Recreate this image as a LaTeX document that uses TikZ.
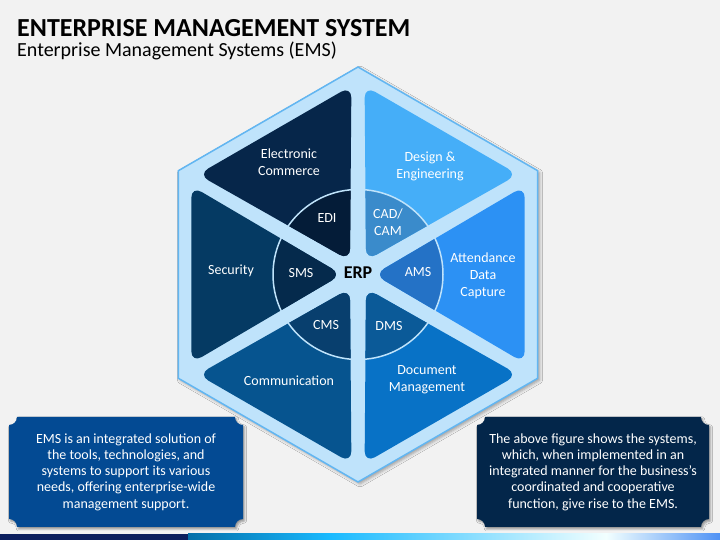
\documentclass[tikz,border=0pt]{standalone}
\usepackage{fontspec}
\setmainfont{Carlito}
\usetikzlibrary{shadows.blur}
\definecolor{PAGE}{HTML}{F2F2F2}
\definecolor{HEXFILL}{HTML}{BFE3FB}
\definecolor{HEXLINE}{HTML}{62B6F2}
\definecolor{ECOM}{HTML}{06264A}
\definecolor{EDIC}{HTML}{041C38}
\definecolor{DENG}{HTML}{45AEF8}
\definecolor{CADC}{HTML}{3A8BCB}
\definecolor{ADC}{HTML}{2C91F4}
\definecolor{AMSC}{HTML}{2472C6}
\definecolor{DOCM}{HTML}{0872C6}
\definecolor{DMSC}{HTML}{0B5A98}
\definecolor{COMM}{HTML}{06548F}
\definecolor{CMSC}{HTML}{083F6E}
\definecolor{SECU}{HTML}{053A63}
\definecolor{SMSC}{HTML}{052A4C}
\definecolor{BOXL}{HTML}{034A93}
\definecolor{BOXR}{HTML}{03264A}
\definecolor{BARD}{HTML}{0C1F5E}
\tikzset{
HEX/.style={fill=HEXFILL,draw=HEXLINE,line width=1.5pt,line join=miter,
  blur shadow={shadow xshift=2pt,shadow yshift=-2pt,shadow blur radius=3pt,shadow opacity=35}},
SECTOR/.style={fill=#1,draw=none,rounded corners=12pt},
LABEL/.style={text=white,font=\fontsize{14}{17}\selectfont,align=center},
BOX/.style={fill=#1,draw=none,
  blur shadow={shadow xshift=1.5pt,shadow yshift=-2pt,shadow blur radius=2pt,shadow opacity=40}},
BOXTEXT/.style={text=white,font=\fontsize{14}{16.3}\selectfont,align=center},
}
\begin{document}
\begin{tikzpicture} %Enterprise management system
[x=1pt,y=1pt]
	\useasboundingbox (0,0) rectangle (720,540);
	\path[fill=PAGE] (0,0) rectangle (720,540);
	\node[anchor=base west,font=\fontsize{26}{30}\selectfont\bfseries,inner sep=0pt] (title) at (17,503) {ENTERPRISE MANAGEMENT SYSTEM};
	\node[anchor=base west,font=\fontsize{20}{24}\selectfont,inner sep=0pt] (subtitle) at (17,483) {Enterprise Management Systems (EMS)};
\begin{scope}[shift={(358,265.5)}]
	\path[HEX] (90:207.5) -- (30:207.5) -- (-30:207.5) -- (-90:207.5) -- (-150:207.5) -- (150:207.5) -- cycle;
	\path[SECTOR=ECOM] (120:166.7) -- (92:188.8) -- (120:16) -- (148:188.8) -- cycle;
	\path[SECTOR=DENG] (60:166.7) -- (32:188.8) -- (60:16) -- (88:188.8) -- cycle;
	\path[SECTOR=ADC] (0:166.7) -- (-28:188.8) -- (0:16) -- (28:188.8) -- cycle;
	\path[SECTOR=DOCM] (-60:166.7) -- (-88:188.8) -- (-60:16) -- (-32:188.8) -- cycle;
	\path[SECTOR=COMM] (-120:166.7) -- (-148:188.8) -- (-120:16) -- (-92:188.8) -- cycle;
	\path[SECTOR=SECU] (180:166.7) -- (152:188.8) -- (180:16) -- (208:188.8) -- cycle;
	\begin{scope}
	\clip (0,0) circle (85);
	\path[SECTOR=EDIC] (120:166.7) -- (92:188.8) -- (120:16) -- (148:188.8) -- cycle;
	\path[SECTOR=CADC] (60:166.7) -- (32:188.8) -- (60:16) -- (88:188.8) -- cycle;
	\path[SECTOR=AMSC] (0:166.7) -- (-28:188.8) -- (0:16) -- (28:188.8) -- cycle;
	\path[SECTOR=DMSC] (-60:166.7) -- (-88:188.8) -- (-60:16) -- (-32:188.8) -- cycle;
	\path[SECTOR=CMSC] (-120:166.7) -- (-148:188.8) -- (-120:16) -- (-92:188.8) -- cycle;
	\path[SECTOR=SMSC] (180:166.7) -- (152:188.8) -- (180:16) -- (208:188.8) -- cycle;
	\end{scope}
	\path[draw=HEXFILL,line width=1.5pt] (0,0) circle (85);
\end{scope}
	\node[LABEL] (ecom) at (289,378) {Electronic\\Commerce};
	\node[LABEL] (deng) at (430,374) {Design \&\\Engineering};
	\node[LABEL] (adc) at (483,264) {Attendance\\Data\\Capture};
	\node[LABEL] (docm) at (427,160) {Document\\Management};
	\node[LABEL] (comm) at (289,159) {Communication};
	\node[LABEL] (secu) at (231,269) {Security};
	\node[LABEL] (edi) at (327,322) {EDI};
	\node[LABEL] (cad) at (388,318) {CAD/\\CAM};
	\node[LABEL] (ams) at (418,268) {AMS};
	\node[LABEL] (dms) at (389,214) {DMS};
	\node[LABEL] (cms) at (326,215) {CMS};
	\node[LABEL] (sms) at (301,267) {SMS};
	\node[font=\fontsize{18}{21}\selectfont\bfseries] (erp) at (358,267) {ERP};
	\path[BOX=BOXL] (17,123) -- (235,123) arc[start angle=180,end angle=270,radius=8]
	  -- (243,21) arc[start angle=90,end angle=180,radius=8]
	  -- (17,13) arc[start angle=0,end angle=90,radius=8]
	  -- (9,115) arc[start angle=270,end angle=360,radius=8] -- cycle;
	\path[BOX=BOXR] (485,123) -- (701,123) arc[start angle=180,end angle=270,radius=8]
	  -- (709,21) arc[start angle=90,end angle=180,radius=8]
	  -- (485,13) arc[start angle=0,end angle=90,radius=8]
	  -- (477,115) arc[start angle=270,end angle=360,radius=8] -- cycle;
	\node[BOXTEXT] (leftnote) at (126,68) {EMS is an integrated solution of\\the tools, technologies, and\\systems to support its various\\needs, offering enterprise-wide\\management support.};
	\node[BOXTEXT] (rightnote) at (593,68) {The above figure shows the systems,\\which, when implemented in an\\integrated manner for the business’s\\coordinated and cooperative\\function, give rise to the EMS.};
	\path[fill=BARD] (0,0) rectangle (188,6);
	\path[left color=BOXL!80!cyan,right color=cyan!70!blue!90!white] (188,0) rectangle (330,6);
	\path[left color=cyan!70!blue!90!white,right color=cyan!5!white] (330,0) rectangle (606,6);
	\path[left color=cyan!5!white,right color=HEXLINE!80!blue] (606,0) rectangle (720,6);
\end{tikzpicture}
\end{document}
